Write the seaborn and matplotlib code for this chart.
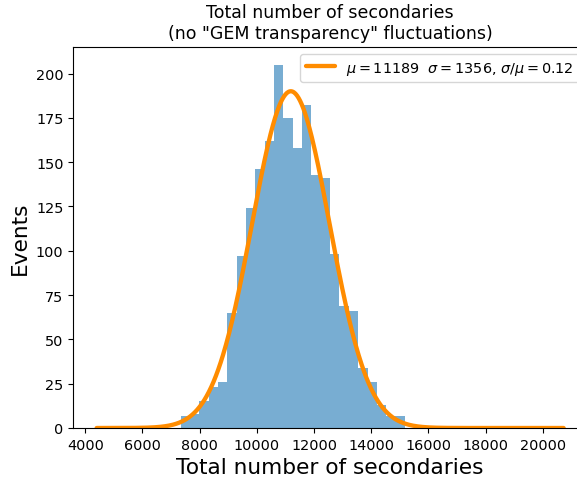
import numpy as np
import pandas as pd
import matplotlib
matplotlib.use("Agg")
import matplotlib.pyplot as plt
import seaborn as sns

# Histogram of the total number of secondaries: 50 equal bins over the event range
bin_lo = 4398.0
bin_hi = 20733.0
n_bins = 50
counts = [1, 0, 0, 0, 0, 0, 0, 0, 0,
          7, 8, 15, 23, 26, 65, 97, 124, 146, 162, 205, 175, 158,
          182, 143, 141, 98, 69, 66, 34, 26, 13, 7, 7,
          0, 0, 0, 0, 0, 0, 0, 0, 0, 0, 0, 0, 0, 0, 0, 0, 1]

# Gaussian fit parameters
fit_mu = 11189.0
fit_sigma = 1356.0
fit_amp = 190.0

title_text = 'Total number of secondaries\n(no "GEM transparency" fluctuations)'
x_label = "Total number of secondaries"
y_label = "Events"

sns.set_style("ticks", rc={
    "axes.edgecolor": "black",
    "axes.labelcolor": "black",
    "text.color": "black",
    "xtick.color": "black",
    "ytick.color": "black",
})
plt.rcParams["font.family"] = ["DejaVu Sans"]
plt.rcParams["mathtext.fontset"] = "dejavusans"

edges = np.linspace(bin_lo, bin_hi, n_bins + 1)
centers = 0.5 * (edges[:-1] + edges[1:])
hist_df = pd.DataFrame({"x": centers, "n": counts})

fig = plt.figure(figsize=(5.77, 4.81), dpi=100)
ax = fig.add_axes([73.3 / 577, 52 / 481, 513.7 / 577, 381.5 / 481])

sns.histplot(data=hist_df, x="x", weights="n", bins=n_bins,
             binrange=(bin_lo, bin_hi), ax=ax,
             color="#1f77b4", alpha=0.6, linewidth=0, edgecolor="none",
             element="bars", fill=True)

xs = np.linspace(bin_lo, bin_hi, 600)
ys = fit_amp * np.exp(-0.5 * ((xs - fit_mu) / fit_sigma) ** 2)
label = (rf"$\mu = {fit_mu:.0f}$  $\sigma = {fit_sigma:.0f}$, "
         rf"$\sigma/\mu = {fit_sigma / fit_mu:.2f}$")
sns.lineplot(x=xs, y=ys, ax=ax, color="#ff8c00", linewidth=3.1, label=label)

sns.despine(ax=ax, top=False, right=True)
ax.margins(x=0.05)
ax.set_ylim(0, max(counts) * 1.05)
ax.set_yticks(np.arange(0, 201, 25))
ax.set_xticks(np.arange(4000, 20001, 2000))
ax.tick_params(labelsize=10.4, length=3.6, width=0.8)

ax.set_title(title_text, fontsize=12.5)
ax.set_xlabel(x_label, fontsize=15.6)
ax.set_ylabel(y_label, fontsize=15.6)
ax.legend(loc="upper right", frameon=True, fontsize=10.4)

fig.savefig("out.png", dpi=100)
